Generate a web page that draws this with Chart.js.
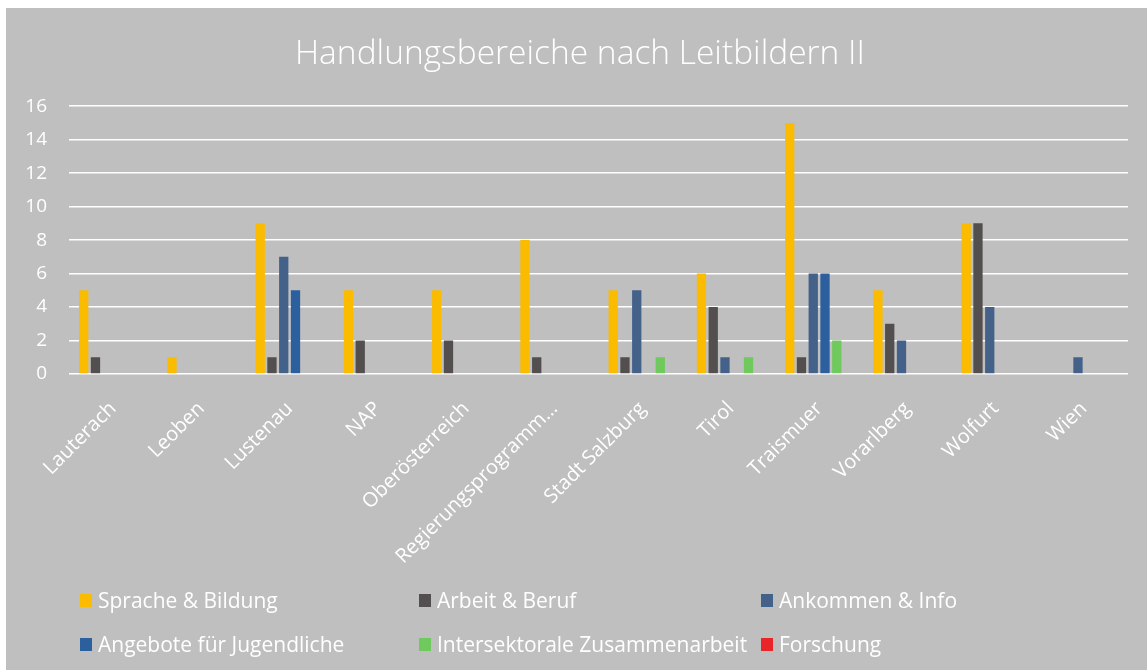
<!DOCTYPE html>
<html>
<head>
<meta charset="utf-8">
<script src="https://cdn.jsdelivr.net/npm/chart.js@4/dist/chart.umd.min.js"></script>
<style>
  html, body { margin: 0; padding: 0; background: #ffffff; }
  #wrap { position: absolute; left: 6px; top: 8px; width: 1141px; height: 662px; background: #bfbfbf; }
  #c { position: absolute; left: 0; top: 0; }
  #legend { position: absolute; left: 0; top: 0; width: 1141px; height: 662px; pointer-events: none;
            font-family: "Open Sans", sans-serif; font-size: 21px; color: #ffffff; }
  .item { position: absolute; display: flex; align-items: center; white-space: nowrap; }
  .box { width: 12px; height: 13px; margin-right: 6px; }
</style>
</head>
<body>
<div id="wrap">
  <canvas id="c" width="1141" height="662"></canvas>
  <div id="legend"></div>
</div>
<script>
const categories = ["Lauterach", "Leoben", "Lustenau", "NAP", "Oberösterreich", "Regierungsprogramm…",
                    "Stadt Salzburg", "Tirol", "Traismuer", "Vorarlberg", "Wolfurt", "Wien"];
const seriesNames = ["Sprache & Bildung", "Arbeit & Beruf", "Ankommen & Info",
                     "Angebote für Jugendliche", "Intersektorale Zusammenarbeit", "Forschung"];
const spracheBildung   = [5, 1, 9, 5, 5, 8, 5, 6, 15, 5, 9, 0];
const arbeitBeruf      = [1, 0, 1, 2, 2, 1, 1, 4, 1, 3, 9, 0];
const ankommenInfo     = [0, 0, 7, 0, 0, 0, 5, 1, 6, 2, 4, 1];
const angeboteJugend   = [0, 0, 5, 0, 0, 0, 0, 0, 6, 0, 0, 0];
const intersektoral    = [0, 0, 0, 0, 0, 0, 1, 1, 2, 0, 0, 0];
const forschung        = [0, 0, 0, 0, 0, 0, 0, 0, 0, 0, 0, 0];
const yTicks = [0, 2, 4, 6, 8, 10, 12, 14, 16];
const colors = ["#fbbc00", "#524f4e", "#44618a", "#2c5f9e", "#70c95c", "#e8262a"];

const values = [spracheBildung, arbeitBeruf, ankommenInfo, angeboteJugend, intersektoral, forschung];

const datasets = seriesNames.map((name, i) => ({
  label: name,
  data: values[i],
  backgroundColor: colors[i],
  borderWidth: 0,
  categoryPercentage: 0.80,
  barPercentage: 0.79
}));

const chart = new Chart(document.getElementById("c"), {
  type: "bar",
  data: { labels: categories, datasets: datasets },
  options: {
    responsive: false,
    animation: false,
    devicePixelRatio: 1,
    layout: { padding: { left: 7, right: 0, top: 0, bottom: 96 } },
    plugins: {
      legend: { display: false },
      tooltip: { enabled: false },
      title: {
        display: true,
        text: "Handlungsbereiche nach Leitbildern II",
        color: "#ffffff",
        font: { family: "Open Sans", size: 33.5, weight: "300" },
        padding: { top: 26, bottom: 32 }
      }
    },
    scales: {
      x: {
        grid: { display: false },
        border: { display: false },
        ticks: {
          color: "#ffffff",
          font: { family: "Open Sans", size: 20 },
          minRotation: 45, maxRotation: 45,
          autoSkip: false,
          padding: 15
        },
        afterFit: (s) => { s.height = 200; }
      },
      y: {
        min: 0, max: 16,
        afterBuildTicks: (s) => { s.ticks = yTicks.map(v => ({ value: v })); },
        grid: { color: "#ffffff", lineWidth: 1.5, drawTicks: false },
        border: { display: false },
        ticks: {
          color: "#ffffff",
          font: { family: "Open Sans", size: 19 },
          padding: 22
        },
        afterFit: (s) => { s.width = 56; }
      },
      yRight: {
        position: "right",
        min: 0, max: 16,
        grid: { display: false, drawTicks: false },
        border: { display: false },
        ticks: { display: false },
        afterFit: (s) => { s.width = 19; }
      }
    }
  }
});

// HTML legend in three columns, built from the datasets
const legend = document.getElementById("legend");
const colX = [74, 413, 755];
const rowY = [592, 636];
datasets.forEach((ds, i) => {
  const el = document.createElement("div");
  el.className = "item";
  el.style.left = colX[i % 3] + "px";
  el.style.top = (rowY[Math.floor(i / 3)] - 14) + "px";
  el.style.height = "28px";
  const box = document.createElement("span");
  box.className = "box";
  box.style.background = ds.backgroundColor;
  const txt = document.createElement("span");
  txt.textContent = ds.label;
  el.appendChild(box);
  el.appendChild(txt);
  legend.appendChild(el);
});
</script>
</body>
</html>
